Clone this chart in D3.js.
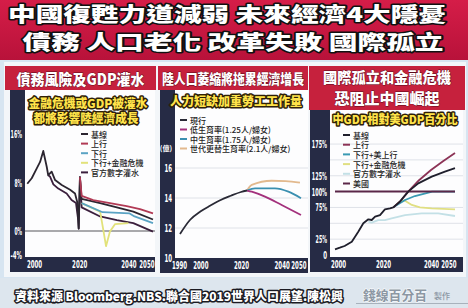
<!DOCTYPE html>
<html>
<head>
<meta charset="utf-8">
<script src="https://cdn.jsdelivr.net/npm/d3@7"></script>
<style>
  body { margin: 0; background: #d9e6f1; }
  svg { display: block; }
</style>
</head>
<body>
<svg id="chart" width="468" height="308"></svg>
<script>
// ---- panel 1: GDP growth (%) ----
const p1Ticks  = [2000, 2020, 2040, 2050];
const p1YTicks = [16, 8, 0, -4];
const p1Base   = [[1998.9,7.8],[2000.7,8.7],[2002.7,10.3],[2004.1,11.4],[2005.4,13.2],[2006.8,10.6],[2007.4,9.2],[2008.8,9.8],[2010.2,8.4],[2012.9,7.6],[2016.3,6.8],[2018.3,6.2],[2019.2,4.8],[2019.8,0.4],[2020.3,8.9],[2021,5.3],[2028.5,4.6],[2035.3,3.9],[2042,3.2],[2050,1.9]];
const p1Up     = [[2020.3,8.9],[2021,5.8],[2025.7,5.1],[2032.5,4.6],[2039.3,4.1],[2044.7,3.6],[2050,2.9]];
const p1Down   = [[2021,4.6],[2029.5,3.1],[2040.5,2.9],[2042.5,2.4],[2050,1.3]];
const p1Crisis = [[2021,4.6],[2028.5,3.2],[2029.8,0.2],[2030.9,-2.5],[2032.5,-0.1],[2034.6,1.15],[2040,1.3]];
const p1Water  = [[2007.4,9.2],[2008.1,9.0],[2009.5,7.7],[2011.5,7.0],[2014.9,6.2],[2016.9,5.1],[2018.7,4.6],[2019.6,1.8],[2019.8,0.4],[2020.3,8.9],[2021,3.9],[2028.5,2.4],[2035.3,1.8],[2042,1.3],[2050,-0.1]];
const p1Names  = ['基線', '上行', '下行', '下行+金融危機', '官方數字灌水'];

// ---- panel 2: population (億) ----
const p2Ticks  = [1990, 2000, 2020, 2040, 2050];
const p2YTicks = [16, 14, 12, 10];
const p2Now    = [[1990,11.6],[1995,12.55],[2000,13.1],[2005,13.5],[2010,13.87],[2015,14.15],[2020,14.4],[2023,14.5]];
const p2Low    = [[2023,14.5],[2025.3,14.42],[2031.8,14.09],[2040,13.53],[2049.5,12.87]];
const p2Mid    = [[2023,14.5],[2026.9,14.64],[2036.7,14.64],[2043.3,14.42],[2049.5,13.98]];
const p2Repl   = [[2023,14.5],[2025.3,14.87],[2035.1,15.15],[2042,15.13],[2049,15.02]];
const p2Names  = ['現行', '低生育率(1.25人/婦女)', '中生育率(1.75人/婦女)', '世代更替生育率(2.1人/婦女)'];

// ---- panel 3: China GDP as % of US GDP ----
const p3Ticks  = [2000, 2020, 2040, 2050];
const p3YTicks = [0, 25, 75, 100, 125, 175];
const p3Grid   = [25, 50, 75, 125, 150, 175];
const p3Base   = [[2000,9],[2002,11.5],[2004,14.2],[2007,21],[2009.7,36.8],[2011.8,50],[2013.9,56.3],[2015.3,55.2],[2016.7,60.4],[2018.75,63],[2020.8,72],[2022.9,73.6],[2024.3,75.2],[2027,84],[2030.5,100],[2034.7,113],[2040.3,123.6],[2045.8,131.5],[2050,137]];
const p3Up     = [[2024.3,75.2],[2027,84],[2030.5,100],[2035,118],[2040,134],[2045,148],[2050,161]];
const p3DownUs = [[2024.3,75.2],[2029.2,86.7],[2033.3,93],[2038.9,98.3],[2040.5,100],[2050,100]];
const p3Crisis = [[2024.3,75.2],[2027,84],[2029,86],[2032,79],[2035.4,75.2],[2040.3,73.6],[2050,72]];
const p3Water  = [[2013.9,52.5],[2015.3,51],[2018,55],[2020.8,55],[2023.6,57.8],[2029.2,63],[2036.1,65.7],[2043,65.7],[2050,61.5]];
const p3Us     = [[2000,100],[2050,100]];
const p3Names  = ['基線', '上行', '下行+美上行', '下行+金融危機', '官方數字灌水', '美國'];

const NAVY = '#262b45';
const RED  = '#c6213d';
const CJK  = '"Noto Sans CJK TC","Noto Sans CJK SC",sans-serif';
const NUM  = '"DejaVu Sans Condensed","Liberation Sans",sans-serif';

const svg  = d3.select('#chart');
const defs = svg.append('defs');
const hg = defs.append('linearGradient').attr('id', 'hdr').attr('x1', 0).attr('y1', 0).attr('x2', 0).attr('y2', 1);
hg.append('stop').attr('offset', '0%').attr('stop-color', '#d51d48');
hg.append('stop').attr('offset', '100%').attr('stop-color', '#b8123a');

svg.append('rect').attr('width', 468).attr('height', 308).attr('fill', '#d7e5f1');
svg.append('rect').attr('width', 468).attr('height', 60).attr('fill', 'url(#hdr)');
svg.append('rect').attr('y', 278).attr('width', 468).attr('height', 30).attr('fill', '#dde6ee');

function outlined(sel, o) {
    const t = sel.append('text')
        .attr('x', o.x).attr('y', o.y)
        .attr('text-anchor', o.anchor || 'middle')
        .attr('dominant-baseline', 'central')
        .attr('font-family', CJK)
        .attr('font-size', o.size)
        .attr('font-weight', o.weight || 900)
        .attr('fill', o.fill)
        .attr('stroke', o.stroke || 'none')
        .attr('stroke-width', o.sw || 0)
        .attr('stroke-linejoin', 'round')
        .attr('paint-order', 'stroke')
        .text(o.text);
    if (o.width) t.attr('textLength', o.width).attr('lengthAdjust', 'spacingAndGlyphs');
    return t;
}

// header
outlined(svg, { x: 227, y: 13, text: '中國復甦力道減弱 未來經濟4大隱憂', size: 20, fill: '#fff', stroke: '#111', sw: 3, width: 438 });
outlined(svg, { x: 233, y: 41, text: '債務 人口老化 改革失敗 國際孤立', size: 20, fill: '#fff', stroke: '#111', sw: 3, width: 421 });

// white, bold, squeezed tick labels
function styleAxis(g) {
    g.select('.domain').remove();
    g.selectAll('.tick line').remove();
    g.selectAll('text')
        .attr('fill', '#fff')
        .attr('font-family', NUM)
        .attr('font-weight', 'bold')
        .attr('font-size', 11)
        .attr('lengthAdjust', 'spacingAndGlyphs')
        .attr('textLength', function () { return this.textContent.length * 3.8; });
}

function drawPanel(c) {
    const g = svg.append('g');
    // card, bands, plot
    g.append('rect').attr('x', c.card[0]).attr('y', 62).attr('width', c.card[1] - c.card[0]).attr('height', 215).attr('fill', '#f3f6f9');
    g.append('rect').attr('x', c.band).attr('y', c.titleB).attr('width', c.plotL - c.band).attr('height', c.bottom + 15 - c.titleB).attr('fill', NAVY);
    g.append('rect').attr('x', c.band).attr('y', c.bottom).attr('width', c.plotR - c.band).attr('height', 15).attr('fill', NAVY);
    g.append('rect').attr('x', c.plotL).attr('y', c.titleB).attr('width', c.plotR - c.plotL).attr('height', c.bottom - c.titleB).attr('fill', '#fdfdfe');
    g.append('rect').attr('x', c.card[0] + 1).attr('y', 66).attr('width', c.card[1] - c.card[0] - 2).attr('height', c.titleB - 66).attr('fill', RED);

    c.titles.forEach(t => outlined(g, { x: (c.card[0] + c.card[1]) / 2, y: t.y, text: t.text, size: t.size, fill: '#fff', stroke: '#5a0a1a', sw: 0.8, width: t.w }));
    c.subs.forEach(t => outlined(g, { x: t.x, y: t.y, text: t.text, size: 12, fill: '#ffe34a', stroke: '#2e2008', sw: 3, width: t.w }));

    const x = d3.scaleLinear().domain(c.xDomain).range(c.xRange);
    const y = d3.scaleLinear().domain(c.yDomain).range(c.yRange);

    (c.grid || []).forEach(v => {
        g.append('line').attr('x1', c.plotL).attr('x2', c.plotR).attr('y1', y(v)).attr('y2', y(v))
            .attr('stroke', '#dfe2e8').attr('stroke-width', 1);
    });
    if (c.zero) {
        g.append('line').attr('x1', c.plotL).attr('x2', c.plotR).attr('y1', y(0)).attr('y2', y(0))
            .attr('stroke', '#8d8d90').attr('stroke-width', 1.6);
    }

    const ax = g.append('g').attr('transform', `translate(0,${c.bottom})`)
        .call(d3.axisBottom(x).tickValues(c.xTicks).tickFormat(d3.format('d')).tickSize(0).tickPadding(3));
    styleAxis(ax);
    ax.selectAll('.tick').filter(d => d === c.xTicks[0]).select('text').attr('dx', c.firstDx || 0);
    ax.selectAll('.tick').filter(d => d === c.xTicks[c.xTicks.length - 1]).select('text').attr('text-anchor', 'end').attr('dx', c.lastDx || 0);

    const ay = g.append('g').attr('transform', `translate(${c.plotL},0)`)
        .call(d3.axisLeft(y).tickValues(c.yTicks).tickFormat(c.yFmt).tickSize(0).tickPadding(3));
    styleAxis(ay);
    if (c.unit) {
        g.append('text').attr('x', c.unit.x).attr('y', c.unit.y).attr('text-anchor', 'middle').attr('dominant-baseline', 'central')
            .attr('font-family', CJK).attr('font-size', 7).attr('font-weight', 700).attr('fill', '#fff').text(c.unit.text);
    }

    const line = d3.line().x(d => x(d[0])).y(d => y(d[1])).curve(c.curve || d3.curveLinear);
    c.series.forEach(s => {
        g.append('path').datum(s.data)
            .attr('fill', 'none').attr('stroke', s.color).attr('stroke-width', s.w || 1.8)
            .attr('stroke-linejoin', 'round').attr('d', line);
    });

    c.legend.forEach((l, i) => {
        const ly = c.legY + i * c.legStep;
        g.append('line').attr('x1', c.legX).attr('x2', c.legX + 7).attr('y1', ly).attr('y2', ly)
            .attr('stroke', l.color).attr('stroke-width', 2);
        g.append('text').attr('x', c.legX + 10).attr('y', ly).attr('dominant-baseline', 'central')
            .attr('font-family', CJK).attr('font-size', 8).attr('font-weight', 500).attr('fill', '#222')
            .text(l.name);
    });
}

// panel 1
const c1 = ['#2b2530', '#b13a55', '#5aa3c4', '#e2e27a', '#3b1f3d'];
drawPanel({
    card: [4, 157], band: 10, plotL: 25, plotR: 155, titleB: 90, bottom: 257,
    titles: [{ y: 78, text: '債務風險及GDP灌水', size: 15, w: 128 }],
    subs: [{ x: 88, y: 102, text: '金融危機或GDP被灌水', w: 119 }, { x: 86, y: 117, text: '都將影響陸經濟成長', w: 105 }],
    xDomain: [2000, 2050], xRange: [30, 153], xTicks: p1Ticks, firstDx: 4, lastDx: 1,
    yDomain: [0, 16], yRange: [231, 134], yTicks: p1YTicks, yFmt: d => d + '%', zero: true,
    series: [
        { data: p1Water,  color: c1[4] },
        { data: p1Crisis, color: c1[3] },
        { data: p1Down,   color: c1[2] },
        { data: p1Base,   color: c1[0] },
        { data: p1Up,     color: c1[1] },
    ],
    legend: p1Names.map((n, i) => ({ name: n, color: c1[i] })),
    legX: 81, legY: 134, legStep: 9.6,
});

// panel 2
const c2 = ['#2a2a36', '#a3307c', '#3a8fb0', '#e2b98e'];
drawPanel({
    card: [157, 309], band: 160, plotL: 175, plotR: 308, titleB: 90, bottom: 258,
    titles: [{ y: 78, text: '陸人口萎縮將拖累經濟增長', size: 14, w: 142 }],
    subs: [{ x: 236, y: 100, text: '人力短缺加重勞工工作量', w: 132 }],
    xDomain: [1990, 2050], xRange: [180, 302], xTicks: p2Ticks, firstDx: -1, lastDx: 4,
    yDomain: [10, 16], yRange: [258, 168], yTicks: p2YTicks, yFmt: d3.format('d'),
    grid: [12, 14, 16], unit: { x: 166, y: 148, text: '(億)' },
    curve: d3.curveMonotoneX,
    series: [
        { data: p2Repl, color: c2[3] },
        { data: p2Mid,  color: c2[2] },
        { data: p2Low,  color: c2[1] },
        { data: p2Now,  color: c2[0] },
    ],
    legend: p2Names.map((n, i) => ({ name: n, color: c2[i] })),
    legX: 180, legY: 120, legStep: 9.5,
});

// panel 3
const c3 = ['#1f1f2c', '#8c3356', '#3a9ab3', '#e0df82', '#c3e0e6', '#5a2748'];
drawPanel({
    card: [308, 466], band: 310, plotL: 330, plotR: 463, titleB: 110, bottom: 257,
    titles: [{ y: 76, text: '國際孤立和金融危機', size: 15, w: 128 }, { y: 97, text: '恐阻止中國崛起', size: 15, w: 105 }],
    subs: [{ x: 395, y: 118, text: '中GDP相對美GDP百分比', w: 125 }],
    xDomain: [2000, 2050], xRange: [335, 455], xTicks: p3Ticks, firstDx: 3, lastDx: 1,
    yDomain: [0, 100], yRange: [255, 191.6], yTicks: p3YTicks, yFmt: d => d === 0 ? '0' : d + '%',
    grid: p3Grid,
    series: [
        { data: p3Water,  color: c3[4] },
        { data: p3Crisis, color: c3[3] },
        { data: p3DownUs, color: c3[2] },
        { data: p3Us,     color: c3[5], w: 2 },
        { data: p3Up,     color: c3[1] },
        { data: p3Base,   color: c3[0] },
    ],
    legend: p3Names.map((n, i) => ({ name: n, color: c3[i] })),
    legX: 343, legY: 135, legStep: 9.7,
});

// footer
outlined(svg, { x: 15, y: 295, anchor: 'start', text: '資料來源 Bloomberg.NBS.聯合國2019世界人口展望.陳松興', size: 12, fill: '#fff', stroke: '#1a1a22', sw: 3, width: 328 });
outlined(svg, { x: 395, y: 294, text: '錢線百分百', size: 13, fill: '#8c97a3', stroke: '#f4f7fa', sw: 1.5, width: 64, weight: 700 });
outlined(svg, { x: 442, y: 295, text: '製作', size: 8, fill: '#8c97a3', weight: 500 });
svg.append('line').attr('x1', 356).attr('x2', 468).attr('y1', 303.5).attr('y2', 303.5).attr('stroke', '#a8b2bc').attr('stroke-width', 1);
</script>
</body>
</html>
